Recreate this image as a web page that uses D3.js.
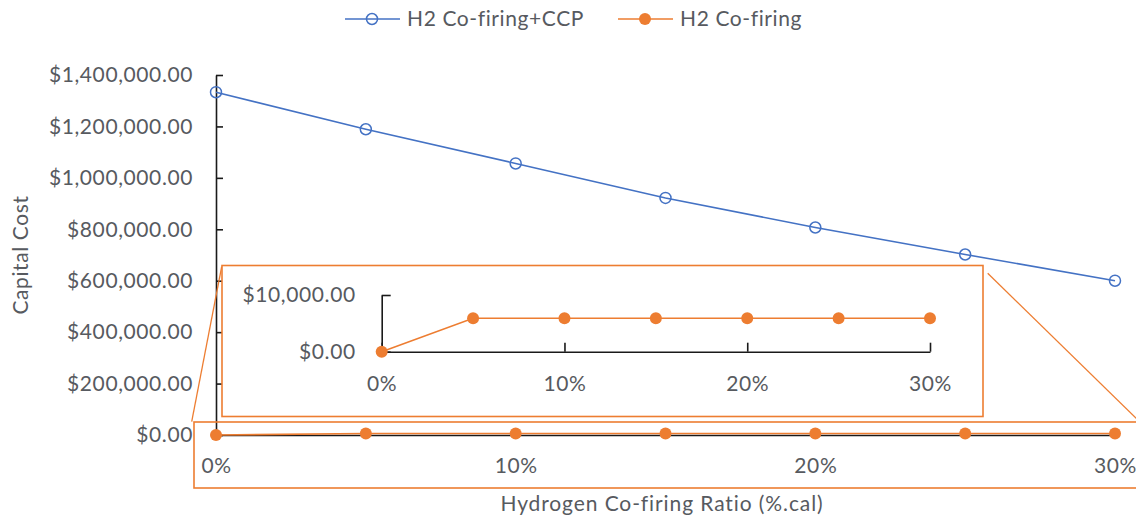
<!DOCTYPE html>
<html>
<head>
<meta charset="utf-8">
<script src="https://cdn.jsdelivr.net/npm/d3@7"></script>
<style>
  html, body { margin: 0; padding: 0; background: #fff; }
  svg { display: block; font-family: Lato, "Open Sans", sans-serif; }
  .lbl { fill: #575a60; font-size: 21px; letter-spacing: 0.6px; }
</style>
</head>
<body>
<svg id="chart" width="1136" height="522"></svg>
<script>
// Hydrogen co-firing ratio (fraction of calorific input)
const ratios = [0, 0.05, 0.10, 0.15, 0.20, 0.25, 0.30];
// Capital cost, H2 co-firing with carbon capture plant
const ccpCost = [1333000, 1189000, 1056000, 922000, 807000, 702000, 600000];
// Capital cost, H2 co-firing only
const cofiringCost = [0, 5900, 5900, 5900, 5900, 5900, 5900];

const seriesNames = ["H2 Co-firing+CCP", "H2 Co-firing"];
const mainYTicks = [0, 200000, 400000, 600000, 800000, 1000000, 1200000, 1400000];
const mainXTicks = [0, 0.10, 0.20, 0.30];
const insetYTicks = [0, 10000];
const insetXTicks = [0, 0.10, 0.20, 0.30];
const yTitle = "Capital Cost";
const xTitle = "Hydrogen Co-firing Ratio (%.cal)";

const BLUE = "#4472C4", ORANGE = "#ED7D31", AXIS = "#1a1a1a";
const money = d3.format("$,.2f");
const pct = d3.format(".0%");

const svg = d3.select("#chart");

// ---- main chart scales ----
const x = d3.scaleLinear().domain([0, 0.30]).range([216, 1115]);
const y = d3.scaleLinear().domain([0, 1400000]).range([435, 75]);

function styleAxis(g) {
  g.select(".domain").attr("stroke", AXIS).attr("stroke-width", 1.6);
  g.selectAll(".tick line").attr("stroke", AXIS).attr("stroke-width", 1.6);
  g.selectAll(".tick text").attr("class", "lbl").attr("font-size", null).attr("font-family", null);
  g.attr("font-size", null).attr("font-family", null);
}

// y axis (ticks pointing into the plot)
svg.append("g")
  .attr("transform", `translate(${x(0)},0)`)
  .call(d3.axisLeft(y).tickValues(mainYTicks).tickFormat(money)
    .tickSize(-7).tickSizeOuter(0).tickPadding(23))
  .call(styleAxis);

// x axis
svg.append("g")
  .attr("transform", `translate(0,${y(0)})`)
  .call(d3.axisBottom(x).tickValues(mainXTicks).tickFormat(pct)
    .tickSize(0).tickSizeOuter(0).tickPadding(23))
  .call(styleAxis);

// axis titles
svg.append("text").attr("class", "lbl")
  .attr("transform", "translate(28,255) rotate(-90)")
  .attr("text-anchor", "middle").text(yTitle);
svg.append("text").attr("class", "lbl")
  .attr("x", 662).attr("y", 511).attr("text-anchor", "middle")
  .style("letter-spacing", "0.9px").text(xTitle);

// series lines and markers
const ccpData = ratios.map((r, i) => [r, ccpCost[i]]);
const cofData = ratios.map((r, i) => [r, cofiringCost[i]]);

function drawSeries(xs, ys, data, color, open, r) {
  const line = d3.line().x(d => xs(d[0])).y(d => ys(d[1]));
  const g = svg.append("g");
  g.append("path").datum(data).attr("d", line)
    .attr("fill", "none").attr("stroke", color).attr("stroke-width", 1.6);
  g.selectAll("circle").data(data).join("circle")
    .attr("cx", d => xs(d[0])).attr("cy", d => ys(d[1])).attr("r", r)
    .attr("fill", open ? "none" : color)
    .attr("stroke", color).attr("stroke-width", open ? 1.5 : 0);
}
drawSeries(x, y, ccpData, BLUE, true, 5.5);
drawSeries(x, y, cofData, ORANGE, false, 6);

// ---- zoom callout: highlight box around the main-axis series, connectors, inset ----
svg.append("rect")
  .attr("x", 194).attr("y", 422).attr("width", 960).attr("height", 66)
  .attr("fill", "none").attr("stroke", ORANGE).attr("stroke-width", 1.6);

svg.append("line").attr("x1", 221.7).attr("y1", 266.7).attr("x2", 191.7).attr("y2", 421.7)
  .attr("stroke", ORANGE).attr("stroke-width", 1.3);
svg.append("line").attr("x1", 987.7).attr("y1", 273.3).attr("x2", 1140).attr("y2", 422)
  .attr("stroke", ORANGE).attr("stroke-width", 1.3);

svg.append("rect")
  .attr("x", 222).attr("y", 265.5).attr("width", 761).attr("height", 151)
  .attr("fill", "#fff").attr("stroke", ORANGE).attr("stroke-width", 1.6);

const xi = d3.scaleLinear().domain([0, 0.30]).range([381.7, 930]);
const yi = d3.scaleLinear().domain([0, 10000]).range([351.7, 295]);

svg.append("g")
  .attr("transform", `translate(${xi(0)},0)`)
  .call(d3.axisLeft(yi).tickValues(insetYTicks).tickFormat(money)
    .tickSize(-9).tickSizeOuter(0).tickPadding(26))
  .call(styleAxis);

svg.append("g")
  .attr("transform", `translate(0,${yi(0)})`)
  .call(d3.axisBottom(xi).tickValues(insetXTicks).tickFormat(pct)
    .tickSize(-9).tickSizeOuter(0).tickPadding(24))
  .call(styleAxis);

drawSeries(xi, yi, cofData, ORANGE, false, 6);

// ---- legend ----
const legend = [
  { name: seriesNames[0], color: BLUE, open: true, x0: 345 },
  { name: seriesNames[1], color: ORANGE, open: false, x0: 618 }
];
legend.forEach(l => {
  const g = svg.append("g").attr("transform", `translate(${l.x0},19)`);
  g.append("line").attr("x1", 0).attr("x2", 55).attr("stroke", l.color).attr("stroke-width", 1.6);
  g.append("circle").attr("cx", 27).attr("r", l.open ? 5.5 : 6)
    .attr("fill", l.open ? "none" : l.color).attr("stroke", l.color).attr("stroke-width", l.open ? 1.5 : 0);
  g.append("text").attr("class", "lbl").attr("x", 62).attr("dy", "0.35em").text(l.name);
});
</script>
</body>
</html>
